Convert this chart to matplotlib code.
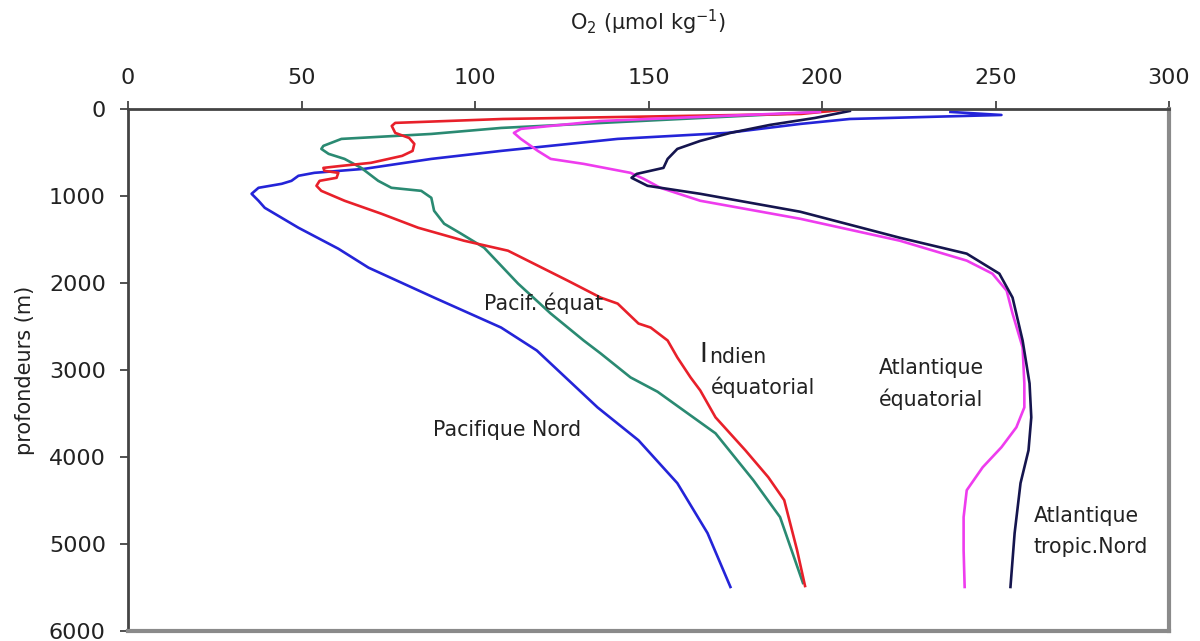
import matplotlib
matplotlib.use("Agg")
from matplotlib import pyplot as plt

# profils d'oxygène dissous (O2 en µmol/kg, profondeur en m)
# Indien équatorial (rouge)
indien_o2 = [206, 194, 108, 77, 76, 77, 81, 82.5, 82, 79, 70, 61.5, 56.3, 56.6, 60.6, 60.1, 55.2, 54.3, 55.7,
             62.4, 73, 83.6, 96.8, 109.5, 126.7, 136.2, 141.1, 147.1, 150.6, 155.5, 158.3, 162.1, 164.9, 169.3,
             177.9, 184.5, 189.1, 191.1, 192.8, 195.1]
indien_z = [10, 57, 115, 160, 195, 275, 333, 401, 482, 539, 619, 654, 677, 711, 734, 791, 826, 883, 941,
            1055, 1204, 1365, 1514, 1629, 1973, 2168, 2237, 2466, 2512, 2661, 2856, 3085, 3235, 3544,
            3923, 4232, 4496, 4806, 5070, 5483]

# Pacifique équatorial (vert)
pacif_eq_o2 = [202, 194, 107.5, 87.4, 61.5, 56.3, 55.7, 57.8, 62.4, 67.2, 72.1, 75.9, 84.5, 87.4, 88.2, 91.1,
               96, 102.6, 112.4, 121.8, 131.3, 136.2, 144.8, 152.6, 169.3, 180.2, 187.9, 194.5]
pacif_eq_z = [23, 46, 218, 287, 344, 424, 459, 516, 574, 677, 826, 906, 941, 1021, 1170, 1319,
              1434, 1594, 2007, 2351, 2661, 2810, 3085, 3250, 3728, 4267, 4691, 5448]

# Pacifique Nord (bleu)
pacif_n_o2 = [237, 251.7, 208, 193.7, 172.7, 141.1, 107.5, 87.4, 68.1, 53.7, 49.1, 47.1, 44.3, 37.6, 35.6,
              37.6, 39.4, 49.1, 60.6, 69.3, 88.2, 107.5, 117.8, 135.3, 147.1, 158.3, 167, 173.6]
pacif_n_z = [34, 69, 115, 172, 275, 344, 482, 574, 688, 734, 768, 826, 860, 906, 975,
             1055, 1136, 1365, 1606, 1824, 2168, 2512, 2776, 3430, 3808, 4301, 4875, 5494]

# Atlantique équatorial (magenta)
atl_eq_o2 = [199.4, 136.2, 113.2, 111.2, 113.2, 118.1, 121.8, 131.3, 144.8, 148.6, 153.4, 164.9, 193.7, 222.4,
             241.7, 249.1, 253.2, 254.9, 257.8, 258.3, 258.3, 256, 251.7, 246.3, 241.7, 240.8, 240.8, 241.1]
atl_eq_z = [34, 138, 229, 275, 344, 482, 574, 631, 734, 803, 906, 1055, 1262, 1514,
            1743, 1893, 2088, 2351, 2741, 3154, 3430, 3659, 3888, 4118, 4382, 4691, 5070, 5494]

# Atlantique tropical Nord (bleu marine)
atl_tn_o2 = [208, 198, 185, 173.6, 164.9, 158.3, 155.5, 154.3, 146.6, 145.1, 149.7, 164.9, 193.7, 222.4, 241.7,
             251.1, 254.9, 257.8, 259.8, 260.3, 259.5, 257.2, 255.5, 254.3]
atl_tn_z = [23, 103, 183, 275, 367, 459, 574, 677, 746, 791, 883, 975, 1181, 1480, 1663,
            1893, 2168, 2661, 3154, 3544, 3923, 4301, 4875, 5494]

x_ticks = [0, 50, 100, 150, 200, 250, 300]
y_ticks = [0, 1000, 2000, 3000, 4000, 5000, 6000]

fig = plt.figure(figsize=(12, 6.41), dpi=100)
ax = fig.add_axes([0.1067, 0.0156, 0.8675, 0.8144])

lw = 1.9
ax.plot(pacif_n_o2, pacif_n_z, color='#2424D8', lw=lw)
ax.plot(pacif_eq_o2, pacif_eq_z, color='#2A8A72', lw=lw)
ax.plot(indien_o2, indien_z, color='#E8202A', lw=lw)
ax.plot(atl_eq_o2, atl_eq_z, color='#EE3CEE', lw=lw)
ax.plot(atl_tn_o2, atl_tn_z, color='#15154E', lw=lw)

ax.set_xlim(0, 300)
ax.set_ylim(6000, 0)
ax.set_xticks(x_ticks)
ax.set_yticks(y_ticks)
ax.xaxis.tick_top()
ax.xaxis.set_label_position('top')
ax.tick_params(axis='both', direction='out', length=6, width=1.2, colors='#333333',
               labelsize=16, labelcolor='#222222')
ax.tick_params(axis='x', pad=9)
ax.tick_params(axis='y', pad=10)

for side in ['top', 'left']:
    ax.spines[side].set_color('#444444')
    ax.spines[side].set_linewidth(2)
for side in ['right', 'bottom']:
    ax.spines[side].set_color('#8a8a8a')
    ax.spines[side].set_linewidth(3)

ax.set_xlabel('O$_2$ (µmol kg$^{-1}$)', fontsize=15, color='#222222', labelpad=27)
ax.set_ylabel('profondeurs (m)', fontsize=15, color='#222222', labelpad=10)

# étiquettes des courbes
tc = '#222222'
fs = 14.8
ax.text(102.6, 2236, 'Pacif. équat', fontsize=fs, color=tc, va='center')
ax.text(164.7, 2833, 'I', fontsize=19, color=tc, va='center')
ax.text(167.6, 2850, 'ndien', fontsize=fs, color=tc, va='center')
ax.text(168.1, 3200, 'équatorial', fontsize=fs, color=tc, va='center')
ax.text(216.4, 2982, 'Atlantique', fontsize=fs, color=tc, va='center')
ax.text(216.4, 3338, 'équatorial', fontsize=fs, color=tc, va='center')
ax.text(260.9, 4680, 'Atlantique', fontsize=fs, color=tc, va='center')
ax.text(260.9, 5035, 'tropic.Nord', fontsize=fs, color=tc, va='center')
ax.text(87.9, 3693, 'Pacifique Nord', fontsize=fs, color=tc, va='center')

plt.savefig('out.png', dpi=100)
